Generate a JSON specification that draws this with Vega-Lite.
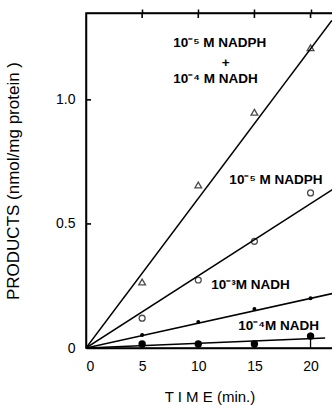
{
  "$schema": "https://vega.github.io/schema/vega-lite/v6.json",
  "width": 247,
  "height": 335,
  "autosize": "none",
  "padding": {"left": 86, "top": 13, "right": 0, "bottom": 57},
  "background": "white",
  "config": {
    "view": {"stroke": "black", "strokeWidth": 1.5},
    "font": "Liberation Sans",
    "axis": {"domainColor": "black", "domainWidth": 1.5, "tickColor": "black", "tickWidth": 1.5, "labelColor": "black", "titleColor": "black", "grid": false, "labelFont": "Liberation Sans", "titleFont": "Liberation Sans"}
  },
  "datasets": {
    "pts": [
      {"time": 5, "products": 0.266, "series": "A"},
      {"time": 10, "products": 0.657, "series": "A"},
      {"time": 15, "products": 0.95, "series": "A"},
      {"time": 20, "products": 1.21, "series": "A"},
      {"time": 5, "products": 0.12, "series": "B"},
      {"time": 10, "products": 0.274, "series": "B"},
      {"time": 15, "products": 0.43, "series": "B"},
      {"time": 20, "products": 0.625, "series": "B"},
      {"time": 5, "products": 0.052, "series": "C"},
      {"time": 10, "products": 0.105, "series": "C"},
      {"time": 15, "products": 0.157, "series": "C"},
      {"time": 20, "products": 0.2, "series": "C"},
      {"time": 5, "products": 0.016, "series": "D"},
      {"time": 10, "products": 0.016, "series": "D"},
      {"time": 15, "products": 0.016, "series": "D"},
      {"time": 20, "products": 0.048, "series": "D"}
    ],
    "fits": [
      {"time": 0, "products": 0, "series": "A"},
      {"time": 21.9, "products": 1.32, "series": "A"},
      {"time": 0, "products": 0, "series": "B"},
      {"time": 22, "products": 0.64, "series": "B"},
      {"time": 0, "products": 0, "series": "C"},
      {"time": 22, "products": 0.22, "series": "C"},
      {"time": 0, "products": 0, "series": "D"},
      {"time": 21.3, "products": 0.04, "series": "D"}
    ],
    "labels": [
      {"time": 7.77, "products": 1.23, "text": "10⁻⁵ M NADPH"},
      {"time": 12.1, "products": 1.15, "text": "+"},
      {"time": 7.77, "products": 1.085, "text": "10⁻⁴ M NADH"},
      {"time": 12.77, "products": 0.677, "text": "10⁻⁵ M NADPH"},
      {"time": 11.16, "products": 0.254, "text": "10⁻³M NADH"},
      {"time": 13.57, "products": 0.089, "text": "10⁻⁴M NADH"}
    ],
    "err": [
      {"time": 20, "lo": 0.0, "hi": 0.062}
    ],
    "frame": [
      {"t1": 5, "t2": 5, "p1": 1.35, "p2": 1.33},
      {"t1": 10, "t2": 10, "p1": 1.35, "p2": 1.33},
      {"t1": 15, "t2": 15, "p1": 1.35, "p2": 1.33},
      {"t1": 20, "t2": 20, "p1": 1.35, "p2": 1.33},
      {"t1": 0, "t2": 0.45, "p1": 0.5, "p2": 0.5},
      {"t1": 0, "t2": 0.45, "p1": 1.0, "p2": 1.0}
    ],
    "anchor": [
      {"time": 0, "products": 0}
    ]
  },
  "layer": [
    {
      "data": {"name": "fits"},
      "mark": {"type": "line", "color": "black", "strokeWidth": 1.5, "clip": true},
      "encoding": {
        "x": {"field": "time", "type": "quantitative", "scale": {"domain": [0, 22], "nice": false},
          "axis": {"orient": "bottom", "values": [0, 5, 10, 15, 20], "ticks": false, "labelPadding": 11, "labelFontSize": 14, "title": "T I M E (min.)", "titleFontSize": 15, "titleFontWeight": "normal", "titlePadding": 16}},
        "y": {"field": "products", "type": "quantitative", "scale": {"domain": [0, 1.35], "nice": false},
          "axis": {"values": [0, 0.5, 1.0], "ticks": false, "labelPadding": 11, "labelFontSize": 14, "labelExpr": "datum.value == 0 ? '0' : format(datum.value, '.1f')", "title": "PRODUCTS (nmol/mg protein )", "titleFontSize": 17, "titleFontWeight": "normal", "titlePadding": 33}},
        "detail": {"field": "series"}
      }
    },
    {
      "data": {"name": "frame"},
      "mark": {"type": "rule", "color": "black", "strokeWidth": 1.6},
      "encoding": {
        "x": {"field": "t1", "type": "quantitative", "axis": null},
        "x2": {"field": "t2"},
        "y": {"field": "p1", "type": "quantitative"},
        "y2": {"field": "p2"}
      }
    },
    {
      "data": {"name": "pts"},
      "transform": [{"filter": "datum.series == 'A'"}],
      "mark": {"type": "point", "shape": "triangle-up", "filled": false, "color": "black", "strokeWidth": 1.3, "size": 45},
      "encoding": {
        "x": {"field": "time", "type": "quantitative", "axis": null},
        "y": {"field": "products", "type": "quantitative"}
      }
    },
    {
      "data": {"name": "pts"},
      "transform": [{"filter": "datum.series == 'B'"}],
      "mark": {"type": "point", "shape": "circle", "filled": false, "color": "black", "strokeWidth": 1.3, "size": 35},
      "encoding": {
        "x": {"field": "time", "type": "quantitative", "axis": null},
        "y": {"field": "products", "type": "quantitative"}
      }
    },
    {
      "data": {"name": "pts"},
      "transform": [{"filter": "datum.series == 'C'"}],
      "mark": {"type": "circle", "color": "black", "opacity": 1, "size": 16},
      "encoding": {
        "x": {"field": "time", "type": "quantitative", "axis": null},
        "y": {"field": "products", "type": "quantitative"}
      }
    },
    {
      "data": {"name": "pts"},
      "transform": [{"filter": "datum.series == 'D'"}],
      "mark": {"type": "circle", "color": "black", "opacity": 1, "size": 55},
      "encoding": {
        "x": {"field": "time", "type": "quantitative", "axis": null},
        "y": {"field": "products", "type": "quantitative"}
      }
    },
    {
      "data": {"name": "err"},
      "mark": {"type": "rule", "color": "black", "strokeWidth": 1.3},
      "encoding": {
        "x": {"field": "time", "type": "quantitative", "axis": null},
        "y": {"field": "lo", "type": "quantitative"},
        "y2": {"field": "hi"}
      }
    },
    {
      "data": {"name": "labels"},
      "mark": {"type": "text", "align": "left", "baseline": "middle", "fontSize": 13.5, "font": "Liberation Sans", "fontWeight": "bold", "color": "black"},
      "encoding": {
        "x": {"field": "time", "type": "quantitative", "axis": null},
        "y": {"field": "products", "type": "quantitative"},
        "text": {"field": "text"}
      }
    },
    {
      "data": {"name": "anchor"},
      "mark": {"type": "point", "opacity": 0},
      "encoding": {
        "x": {"field": "time", "type": "quantitative", "axis": {"orient": "top", "values": [5, 10, 15, 20], "labels": false, "title": null, "tickSize": 4, "domain": true}},
        "y": {"field": "products", "type": "quantitative"}
      }
    }
  ],
  "resolve": {"axis": {"x": "independent"}}
}
